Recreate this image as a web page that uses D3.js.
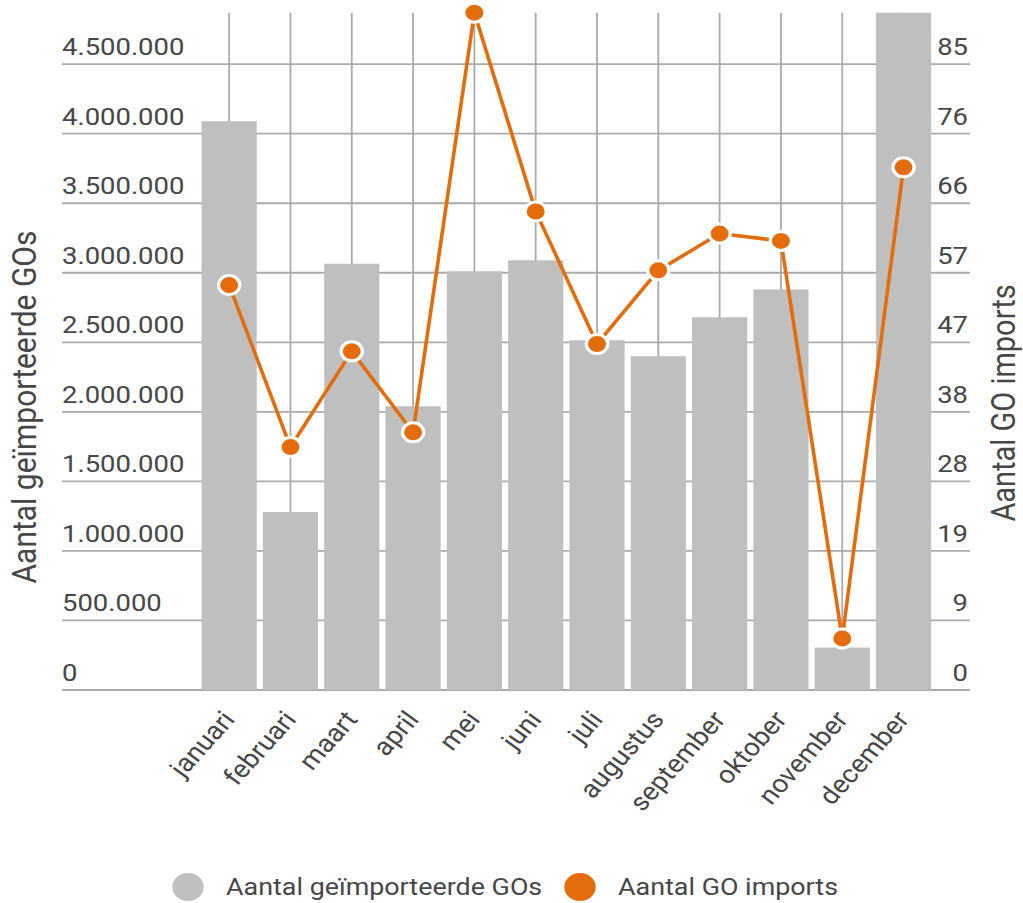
<!DOCTYPE html>
<html>
<head>
<meta charset="utf-8">
<script src="https://cdn.jsdelivr.net/npm/d3@7"></script>
<style>
  body { margin: 0; background: #fff; }
  svg { font-family: Roboto, "Noto Sans", sans-serif; }
</style>
</head>
<body>
<div id="chart"></div>
<script>
// data
var months = ["januari", "februari", "maart", "april", "mei", "juni", "juli",
  "augustus", "september", "oktober", "november", "december"];
var goVolumes = [4090000, 1280000, 3065000, 2040000, 3010000, 3090000, 2515000,
  2400000, 2680000, 2880000, 305000, 4870000];
var goImports = [55, 33, 46, 35, 92, 65, 47, 57, 62, 61, 7, 71];
var leftTicks = [0, 500000, 1000000, 1500000, 2000000, 2500000, 3000000,
  3500000, 4000000, 4500000];
var seriesNames = ["Aantal geïmporteerde GOs", "Aantal GO imports"];

var W = 1023, H = 903;
var plot = {left: 62, right: 970, top: 12.7, bottom: 690};
var sx = 1.12; // the reference is drawn a little wide

var svg = d3.select("#chart").append("svg")
  .attr("width", W)
  .attr("height", H);

var nl = d3.formatLocale({decimal: ",", thousands: ".", grouping: [3], currency: ["€", ""]});
var fmt = nl.format(",d");

var x = d3.scaleBand()
  .domain(months)
  .range([198.5, 934.2])
  .paddingInner(0.1)
  .paddingOuter(0.05);

var y = d3.scaleLinear()
  .domain([0, d3.max(goVolumes)])
  .range([plot.bottom, plot.top]);

var y2 = d3.scaleLinear()
  .domain([0, d3.max(goImports)])
  .range([plot.bottom, plot.top]);

var gridColor = "#ababab";
var textColor = "#474747";
var orange = "#e46c0a";

function cx(m) { return x(m) + x.bandwidth() / 2; }
function at(px, py) { return "translate(" + px + "," + py + ") scale(" + sx + ",1)"; }

// vertical gridlines
svg.append("g")
  .selectAll("line")
  .data(months)
  .enter().append("line")
  .attr("x1", cx)
  .attr("x2", cx)
  .attr("y1", plot.top)
  .attr("y2", plot.bottom)
  .attr("stroke", gridColor)
  .attr("stroke-width", 1.8);

// horizontal gridlines
svg.append("g")
  .selectAll("line")
  .data(leftTicks)
  .enter().append("line")
  .attr("x1", plot.left)
  .attr("x2", plot.right)
  .attr("y1", function(d) { return y(d); })
  .attr("y2", function(d) { return y(d); })
  .attr("stroke", gridColor)
  .attr("stroke-width", 1.8);

// bars
svg.append("g")
  .selectAll("rect")
  .data(goVolumes)
  .enter().append("rect")
  .attr("x", function(d, i) { return x(months[i]); })
  .attr("y", function(d) { return y(d); })
  .attr("width", x.bandwidth())
  .attr("height", function(d) { return plot.bottom - y(d); })
  .attr("fill", "#bfbfbf");

// left tick labels
svg.append("g")
  .selectAll("text")
  .data(leftTicks)
  .enter().append("text")
  .attr("transform", function(d) { return at(plot.left, y(d) - 9); })
  .attr("font-size", 24.5)
  .attr("fill", textColor)
  .text(function(d) { return fmt(d); });

// right tick labels, at the same gridlines
svg.append("g")
  .selectAll("text")
  .data(leftTicks)
  .enter().append("text")
  .attr("transform", function(d) { return at(plot.right - 2, y(d) - 9); })
  .attr("text-anchor", "end")
  .attr("font-size", 24.5)
  .attr("fill", textColor)
  .text(function(d) { return Math.round(y2.invert(y(d))); });

// axis titles
svg.append("text")
  .attr("transform", at(36, 407) + " rotate(-90)")
  .attr("text-anchor", "middle")
  .attr("font-size", 30)
  .attr("fill", textColor)
  .text(seriesNames[0]);

svg.append("text")
  .attr("transform", at(1015, 403) + " rotate(-90)")
  .attr("text-anchor", "middle")
  .attr("font-size", 29)
  .attr("fill", textColor)
  .text(seriesNames[1]);

// month labels
svg.append("g")
  .selectAll("text")
  .data(months)
  .enter().append("text")
  .attr("transform", function(d) { return at(cx(d) + 7, 720) + " rotate(-51)"; })
  .attr("text-anchor", "end")
  .attr("font-size", 25)
  .attr("fill", textColor)
  .text(function(d) { return d; });

// line
var line = d3.line()
  .x(function(d, i) { return cx(months[i]); })
  .y(function(d) { return y2(d); });

svg.append("path")
  .datum(goImports)
  .attr("d", line)
  .attr("fill", "none")
  .attr("stroke", orange)
  .attr("stroke-width", 3.6);

svg.append("g")
  .selectAll("circle")
  .data(goImports)
  .enter().append("circle")
  .attr("transform", function(d, i) { return at(cx(months[i]), y2(d)); })
  .attr("r", 9.5)
  .attr("fill", orange)
  .attr("stroke", "#fff")
  .attr("stroke-width", 3);

// legend
var legend = svg.append("g")
  .selectAll("g")
  .data(seriesNames)
  .enter().append("g")
  .attr("transform", function(d, i) { return at([188, 580][i], 887); });

legend.append("circle")
  .attr("r", 14)
  .attr("fill", function(d, i) { return i === 0 ? "#bfbfbf" : orange; });

legend.append("text")
  .attr("x", 34)
  .attr("dy", "0.35em")
  .attr("font-size", 24)
  .attr("fill", textColor)
  .text(function(d) { return d; });
</script>
</body>
</html>
